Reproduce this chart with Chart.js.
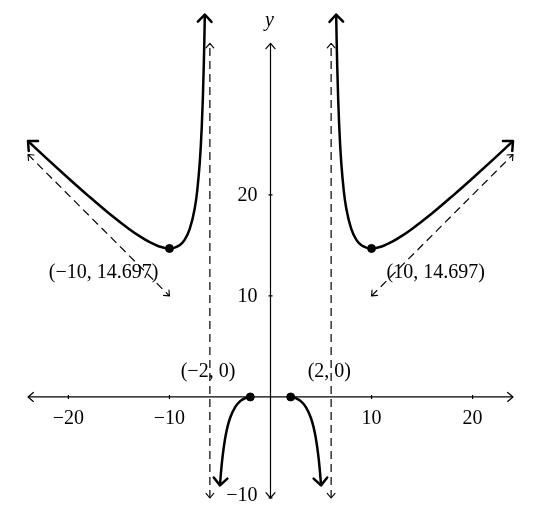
<!DOCTYPE html>
<html>
<head>
<meta charset="utf-8">
<script src="https://cdn.jsdelivr.net/npm/chart.js@4/dist/chart.umd.min.js"></script>
<style>
  html, body { margin: 0; padding: 0; background: #fff; }
  #wrap { width: 556px; height: 520px; }
</style>
</head>
<body>
<div id="wrap"><canvas id="chartCurve"></canvas></div>
<script>
// curve branches
const leftUpperX = [-24, -22, -20, -18, -16, -14, -13, -12, -11, -10, -9, -8.5, -8, -7.5, -7.25, -7, -6.9, -6.8, -6.7, -6.6, -6.55, -6.5]
const leftUpperY = [25.33, 23.47, 21.65, 19.88, 18.18, 16.63, 15.94, 15.34, 14.89, 14.7, 15.02, 15.55, 16.6, 18.65, 20.43, 23.22, 24.8, 26.81, 29.41, 32.91, 35.15, 37.85]
const rightUpperX = [6.5, 6.55, 6.6, 6.7, 6.8, 6.9, 7, 7.25, 7.5, 8, 8.5, 9, 10, 11, 12, 13, 14, 16, 18, 20, 22, 24]
const rightUpperY = [37.85, 35.15, 32.91, 29.41, 26.81, 24.8, 23.22, 20.43, 18.65, 16.6, 15.55, 15.02, 14.7, 14.89, 15.34, 15.94, 16.63, 18.18, 19.88, 21.65, 23.47, 25.33]
const leftLowerX = [-5, -4.9, -4.75, -4.5, -4.25, -4, -3.5, -3, -2.5, -2.25, -2]
const leftLowerY = [-8.75, -7.47, -5.95, -4.16, -2.94, -2.08, -1.0, -0.41, -0.11, -0.04, 0]
const rightLowerX = [2, 2.25, 2.5, 3, 3.5, 4, 4.25, 4.5, 4.75, 4.9, 5]
const rightLowerY = [0, -0.04, -0.11, -0.41, -1.0, -2.08, -2.94, -4.16, -5.95, -7.47, -8.75]

// asymptotes
const vertAsymX = [-6, 6]
const vertAsymY = [-10, 35]
const slantLeftX = [-24, -10]
const slantLeftY = [24, 10]
const slantRightX = [10, 24]
const slantRightY = [10, 24]

// marked points
const pointX = [-10, 10, -2, 2]
const pointY = [14.697, 14.697, 0, 0]
const pointLabels = ['(\u221210, 14.697)', '(10, 14.697)', '(\u22122, 0)', '(2, 0)']

// axes
const xRange = [-24, 24]
const yRange = [-10, 35]
const xTicks = [-20, -10, 10, 20]
const yTicks = [-10, 10, 20]

const FONT = '20px "Liberation Serif", "Times New Roman", serif'

function pts(xs, ys) {
  const out = []
  for (var i = 0; i < xs.length; i++) out.push({x: xs[i], y: ys[i]})
  return out
}

function arrowHead(ctx, tx, ty, fx, fy, len, half, lw) {
  const a = Math.atan2(ty - fy, tx - fx)
  ctx.save()
  ctx.lineWidth = lw
  ctx.lineCap = 'round'
  ctx.lineJoin = 'round'
  ctx.strokeStyle = '#000'
  ctx.beginPath()
  ctx.moveTo(tx - len * Math.cos(a - half), ty - len * Math.sin(a - half))
  ctx.lineTo(tx, ty)
  ctx.lineTo(tx - len * Math.cos(a + half), ty - len * Math.sin(a + half))
  ctx.stroke()
  ctx.restore()
}

function minus(v) {
  return String(v).replace('-', '\u2212')
}

const curveStyle = {
  showLine: true,
  borderColor: '#000',
  borderWidth: 2.5,
  pointRadius: 0,
  cubicInterpolationMode: 'monotone',
  fill: false
}
const dashStyle = {
  showLine: true,
  borderColor: '#000',
  borderWidth: 1.2,
  borderDash: [8, 5],
  pointRadius: 0,
  fill: false
}

const axesPlugin = {
  id: 'axesPlugin',
  beforeDatasetsDraw(chart) {
    const ctx = chart.ctx
    const xs = chart.scales.x, ys = chart.scales.y
    const x0 = xs.getPixelForValue(0), y0 = ys.getPixelForValue(0)
    const xl = xs.getPixelForValue(xRange[0]), xr = xs.getPixelForValue(xRange[1])
    const yb = ys.getPixelForValue(yRange[0]), yt = ys.getPixelForValue(yRange[1])
    ctx.save()
    ctx.strokeStyle = '#000'
    ctx.lineWidth = 1.2
    ctx.beginPath()
    ctx.moveTo(xl, y0); ctx.lineTo(xr, y0)
    ctx.moveTo(x0, yb); ctx.lineTo(x0, yt)
    ctx.stroke()
    arrowHead(ctx, xl, y0, xr, y0, 7, 0.7, 1.2)
    arrowHead(ctx, xr, y0, xl, y0, 7, 0.7, 1.2)
    arrowHead(ctx, x0, yb, x0, yt, 7, 0.7, 1.2)
    arrowHead(ctx, x0, yt, x0, yb, 7, 0.7, 1.2)

    ctx.fillStyle = '#000'
    ctx.font = FONT
    ctx.beginPath()
    xTicks.forEach(function(v) {
      const px = xs.getPixelForValue(v)
      ctx.moveTo(px, y0 - 2); ctx.lineTo(px, y0 + 2)
    })
    yTicks.forEach(function(v) {
      const py = ys.getPixelForValue(v)
      ctx.moveTo(x0 - 2, py); ctx.lineTo(x0 + 2, py)
    })
    ctx.stroke()

    ctx.textAlign = 'center'
    ctx.textBaseline = 'middle'
    xTicks.forEach(function(v) {
      ctx.fillText(minus(v), xs.getPixelForValue(v), y0 + 22)
    })
    ctx.textAlign = 'right'
    yTicks.forEach(function(v) {
      const py = ys.getPixelForValue(v)
      ctx.fillText(minus(v), x0 - 13, v === yRange[0] ? py - 2 : py + 1)
    })

    ctx.textAlign = 'center'
    ctx.font = 'italic ' + FONT
    ctx.fillText('y', x0 - 1, yt - 23)
    ctx.restore()
  },
  afterDatasetsDraw(chart) {
    const ctx = chart.ctx
    const xs = chart.scales.x, ys = chart.scales.y
    function P(x, y) { return [xs.getPixelForValue(x), ys.getPixelForValue(y)] }

    // arrows on curve ends
    const ends = [
      [leftUpperX, leftUpperY, 'both'],
      [rightUpperX, rightUpperY, 'both'],
      [leftLowerX, leftLowerY, 'start'],
      [rightLowerX, rightLowerY, 'end']
    ]
    ends.forEach(function(e) {
      const X = e[0], Y = e[1], n = X.length
      if (e[2] !== 'end') {
        const t = P(X[0], Y[0]), f = P(X[1], Y[1])
        arrowHead(ctx, t[0], t[1], f[0], f[1], 10, 0.75, 2.5)
      }
      if (e[2] !== 'start') {
        const t = P(X[n - 1], Y[n - 1]), f = P(X[n - 2], Y[n - 2])
        arrowHead(ctx, t[0], t[1], f[0], f[1], 10, 0.75, 2.5)
      }
    })

    // arrows on asymptotes
    vertAsymX.forEach(function(v) {
      const a = P(v, vertAsymY[0]), b = P(v, vertAsymY[1])
      arrowHead(ctx, a[0], a[1], b[0], b[1], 6, 0.7, 1.1)
      arrowHead(ctx, b[0], b[1], a[0], a[1], 6, 0.7, 1.1)
    })
    ;[[slantLeftX, slantLeftY], [slantRightX, slantRightY]].forEach(function(s) {
      const a = P(s[0][0], s[1][0]), b = P(s[0][1], s[1][1])
      arrowHead(ctx, a[0], a[1], b[0], b[1], 6, 0.7, 1.1)
      arrowHead(ctx, b[0], b[1], a[0], a[1], 6, 0.7, 1.1)
    })

    // point labels
    const place = [[-11, 24, 'right'], [15, 24, 'left'], [-15, -25, 'right'], [17, -25, 'left']]
    ctx.save()
    ctx.font = FONT
    ctx.fillStyle = '#000'
    ctx.textBaseline = 'middle'
    pointLabels.forEach(function(txt, i) {
      const p = P(pointX[i], pointY[i])
      ctx.textAlign = place[i][2]
      ctx.fillText(txt, p[0] + place[i][0], p[1] + place[i][1])
    })
    ctx.restore()
  }
}

new Chart(document.getElementById('chartCurve'), {
  type: 'scatter',
  data: {
    datasets: [
      Object.assign({data: pts([vertAsymX[0], vertAsymX[0]], vertAsymY)}, dashStyle),
      Object.assign({data: pts([vertAsymX[1], vertAsymX[1]], vertAsymY)}, dashStyle),
      Object.assign({data: pts(slantLeftX, slantLeftY)}, dashStyle),
      Object.assign({data: pts(slantRightX, slantRightY)}, dashStyle),
      Object.assign({data: pts(leftUpperX, leftUpperY)}, curveStyle),
      Object.assign({data: pts(rightUpperX, rightUpperY)}, curveStyle),
      Object.assign({data: pts(leftLowerX, leftLowerY)}, curveStyle),
      Object.assign({data: pts(rightLowerX, rightLowerY)}, curveStyle),
      {
        data: pts(pointX, pointY),
        showLine: false,
        pointRadius: 4,
        pointBackgroundColor: '#000',
        pointBorderColor: '#000'
      }
    ]
  },
  options: {
    responsive: true,
    maintainAspectRatio: false,
    animation: false,
    clip: false,
    layout: {padding: {left: 28, right: 43, top: 13, bottom: 22}},
    plugins: {
      legend: {display: false},
      tooltip: {enabled: false}
    },
    scales: {
      x: {type: 'linear', min: -24, max: 24, display: false},
      y: {type: 'linear', min: -10, max: 38, display: false}
    }
  },
  plugins: [axesPlugin]
})
</script>
</body>
</html>
